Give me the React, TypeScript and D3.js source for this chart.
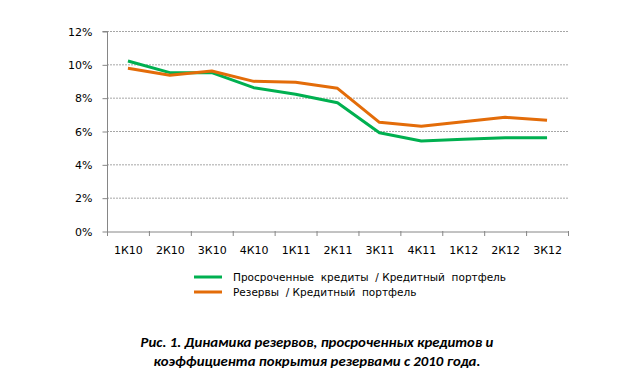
import React, { useEffect, useRef } from 'react';
import * as d3 from 'd3';

const quarters = ['1К10', '2К10', '3К10', '4К10', '1К11', '2К11', '3К11', '4К11', '1К12', '2К12', '3К12'];
const overdueShare = [10.2, 9.5, 9.5, 8.6, 8.2, 7.7, 5.9, 5.4, 5.5, 5.6, 5.6];
const reservesShare = [9.76, 9.35, 9.6, 8.98, 8.92, 8.56, 6.52, 6.28, 6.55, 6.82, 6.64];
const yTicks = [0, 2, 4, 6, 8, 10, 12];
const seriesNames = ['Просроченные  кредиты  / Кредитный  портфель', 'Резервы  / Кредитный  портфель'];
const seriesColors = ['#00B050', '#E36C09'];
const captionLines = [
    'Рис. 1. Динамика резервов, просроченных кредитов и',
    'коэффициента покрытия резервами с 2010 года.',
];

const W = 639;
const H = 388;

const App = () => {
    const svgRef = useRef<SVGSVGElement>(null);

    useEffect(() => {
        const svg = d3.select(svgRef.current);
        svg.selectAll('*').remove();

        const font = '"DejaVu Sans", Verdana, sans-serif';
        const captionFont = 'Carlito, Calibri, "Open Sans", sans-serif';
        const left = 107, right = 568, top = 31, bottom = 231;

        const x = d3.scaleBand().domain(quarters).range([left, right]);
        const y = d3.scaleLinear().domain([0, 12]).range([bottom, top]);

        // Gridlines
        svg.append('g')
            .selectAll('line')
            .data(yTicks.filter(d => d > 0))
            .enter()
            .append('line')
            .attr('x1', left)
            .attr('x2', right)
            .attr('y1', d => y(d) + 0.5)
            .attr('y2', d => y(d) + 0.5)
            .attr('stroke', '#a6a6a6')
            .attr('stroke-width', 1)
            .attr('stroke-dasharray', '2,1');

        // Y axis
        const yAxis = svg.append('g')
            .attr('transform', `translate(${left + 0.5},0.5)`)
            .call(d3.axisLeft(y).tickValues(yTicks).tickSize(5).tickFormat(d => `${d}%`));
        yAxis.select('.domain').attr('stroke', '#868686').attr('d', `M-5,${top}H0V${bottom}`);
        yAxis.selectAll('.tick line').attr('stroke', '#868686');
        yAxis.selectAll('.tick text')
            .attr('x', -15)
            .style('font-family', font)
            .style('font-size', '11px')
            .attr('fill', '#000');

        // X axis
        const xAxis = svg.append('g')
            .attr('transform', `translate(0.5,${bottom + 0.5})`)
            .call(d3.axisBottom(x).tickSize(0).tickSizeOuter(0));
        xAxis.select('.domain').attr('stroke', '#868686');
        xAxis.selectAll('.tick text')
            .attr('dy', null)
            .attr('y', 22.5)
            .style('font-family', font)
            .style('font-size', '11px')
            .attr('fill', '#000');
        svg.append('g')
            .selectAll('line')
            .data(quarters.map(q => x(q)!).concat([right]))
            .enter()
            .append('line')
            .attr('x1', d => d + 0.5)
            .attr('x2', d => d + 0.5)
            .attr('y1', bottom)
            .attr('y2', bottom + 5)
            .attr('stroke', '#868686');

        // Lines
        const line = d3.line<number>()
            .x((d, i) => x(quarters[i])! + x.bandwidth() / 2)
            .y(d => y(d));

        [overdueShare, reservesShare].forEach((s, i) => {
            svg.append('path')
                .datum(s)
                .attr('fill', 'none')
                .attr('stroke', seriesColors[i])
                .attr('stroke-width', 3)
                .attr('stroke-linejoin', 'round')
                .attr('d', line);
        });

        // Legend
        seriesNames.forEach((name, i) => {
            const ly = 277 + i * 15;
            svg.append('line')
                .attr('x1', 194)
                .attr('x2', 222)
                .attr('y1', ly)
                .attr('y2', ly)
                .attr('stroke', seriesColors[i])
                .attr('stroke-width', 3);
            svg.append('text')
                .attr('x', 233)
                .attr('y', ly + 4)
                .style('font-family', font)
                .style('font-size', '10.5px')
                .style('white-space', 'pre')
                .attr('fill', '#000')
                .text(name);
        });

        // Caption
        captionLines.forEach((t, i) => {
            svg.append('text')
                .attr('x', 317)
                .attr('y', 346.5 + i * 19.5)
                .attr('text-anchor', 'middle')
                .style('font-family', captionFont)
                .style('font-size', '14.8px')
                .style('font-weight', 'bold')
                .style('font-style', 'italic')
                .attr('fill', '#000')
                .text(t);
        });
    }, []);

    return (
        <svg ref={svgRef} width={W} height={H} style={{ display: 'block', position: 'absolute', left: 0, top: 0, background: '#fff' }} />
    );
};

export default App;
